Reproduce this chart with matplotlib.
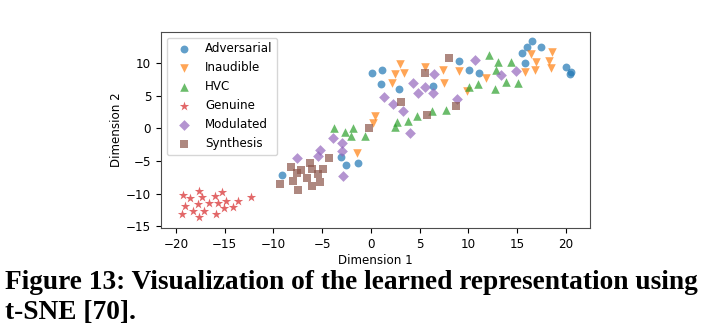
import numpy as np
import matplotlib
matplotlib.use("Agg")
import matplotlib.pyplot as plt

# t-SNE points, 20 per class
adv_x = [0.1, 1.19, 1.06, 2.84, 6.37, 9.07, 10.1, 11.06, 16.55, 16.03, 17.47, 15.52, 15.86, 20.0, 20.4, 20.6, -9.15, -3.08, -2.57, -1.34]
adv_y = [8.51, 8.92, 6.78, 5.97, 6.47, 10.3, 8.92, 8.41, 13.4, 12.48, 12.48, 11.47, 9.94, 9.4, 8.3, 8.7, -7.15, -4.34, -5.61, -5.26]

ina_x = [3.01, 2.5, 3.45, 2.22, 5.51, 7.36, 9.0, 7.46, 11.82, 9.87, 16.47, 18.6, 16.99, 18.25, 18.5, 16.81, 15.86, 0.44, 0.27, -1.44]
ina_y = [9.84, 8.26, 8.51, 6.98, 9.43, 8.92, 8.81, 6.88, 7.74, 5.71, 11.37, 11.72, 10.1, 10.34, 9.27, 8.92, 8.57, 1.88, 0.76, -3.73]

hvc_x = [12.16, 13.05, 14.39, 12.85, 13.87, 10.96, 12.78, 10.03, 15.07, 7.68, 2.67, 2.5, 3.86, 4.73, 6.27, -0.59, -3.77, -2.64, -1.79, -2.02]
hvc_y = [11.21, 10.1, 10.1, 8.92, 7.13, 6.78, 5.97, 6.37, 6.88, 2.8, 1.01, 0.15, 1.12, 1.88, 2.65, -1.13, 0.0, -0.52, 0.0, -1.18]

gen_x = [-19.26, -18.57, -17.65, -17.31, -16.0, -15.32, -19.09, -17.78, -16.59, -15.73, -14.9, -13.67, -12.3, -19.36, -18.23, -17.13, -15.93, -15.05, -14.12, -17.62]
gen_y = [-10.2, -10.62, -9.59, -10.56, -10.31, -9.79, -11.89, -11.58, -11.48, -11.48, -11.12, -11.12, -10.51, -13.11, -12.6, -12.6, -13.07, -12.24, -12.09, -13.52]

mod_x = [-7.61, -5.21, -5.38, -3.84, -2.92, -2.98, -2.88, 1.4, 2.32, 3.35, 4.28, 4.89, 5.58, 6.51, 6.43, 4.04, 10.72, 13.39, 8.84, 14.9]
mod_y = [-4.59, -3.32, -4.24, -1.44, -2.3, -3.43, -7.25, 4.83, 3.72, 2.65, 6.98, 5.45, 6.37, 8.26, 5.35, -0.77, 10.45, 8.16, 4.44, 8.8]

syn_x = [-9.32, -8.19, -8.02, -7.61, -7.16, -7.5, -6.58, -6.24, -6.0, -5.45, -6.06, -5.21, -4.94, -4.25, -0.14, 3.11, 5.58, 5.76, 8.05, 8.74]
syn_y = [-8.52, -5.87, -8.02, -6.89, -6.38, -9.44, -7.56, -5.36, -6.27, -7.04, -8.83, -8.17, -6.23, -4.59, 0.0, 4.07, 8.41, 2.03, 10.71, 3.41]

labels = ["Adversarial", "Inaudible", "HVC", "Genuine", "Modulated", "Synthesis"]
markers = ["o", "v", "^", "*", "D", "s"]
colors = ["tab:blue", "tab:orange", "tab:green", "tab:red", "tab:purple", "tab:brown"]
sizes = [32, 38, 38, 50, 30, 30]
xs = [adv_x, ina_x, hvc_x, gen_x, mod_x, syn_x]
ys = [adv_y, ina_y, hvc_y, gen_y, mod_y, syn_y]

fs = 8.6
fig = plt.figure(figsize=(7.11, 3.31), dpi=100)
ax = fig.add_axes([0.2264, 0.3103, 0.6034, 0.5939])

for x, y, m, c, s, lab in zip(xs, ys, markers, colors, sizes, labels):
    ax.scatter(x, y, marker=m, color=c, s=s, alpha=0.7, linewidths=0, label=lab)

ax.set_xlim(-21.55, 22.5)
ax.set_ylim(-15.3, 14.8)
ax.set_xticks(np.arange(-20, 21, 5))
ax.set_yticks(np.arange(-15, 11, 5))
ax.tick_params(labelsize=fs, length=3.5, width=0.8)
ax.set_xlabel("Dimension 1", fontsize=fs, labelpad=2)
ax.set_ylabel("Dimension 2", fontsize=fs, labelpad=2)
for sp in ax.spines.values():
    sp.set_color("0.3")

ax.legend(loc="upper left", fontsize=fs, scatterpoints=1)

# caption below the plot, as in the paper
cap = dict(family="Liberation Serif", weight="bold", fontsize=19.7, color="black", va="baseline")
fig.text(0.007, 0.126, "Figure 13: Visualization of the learned representation using", **cap)
fig.text(0.007, 0.035, "t-SNE [70].", **cap)

fig.savefig("out.png", dpi=100)
